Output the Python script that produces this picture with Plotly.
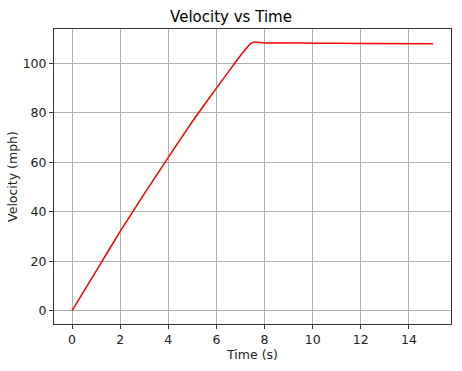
import plotly.graph_objects as go

time_s = [0, 1, 2, 3, 4, 5, 6, 7, 7.2, 7.35, 7.45, 7.55, 7.65, 7.8, 8.0, 8.3, 8.7, 9, 10, 12, 15]
velocity_mph = [0, 16.0, 32.0, 47.2, 62.0, 76.5, 90.0, 103.2, 105.6, 107.3, 108.2, 108.55, 108.6, 108.4, 108.2, 108.2, 108.25, 108.25, 108.15, 108.05, 107.9]

x_ticks = [0, 2, 4, 6, 8, 10, 12, 14]
y_ticks = [0, 20, 40, 60, 80, 100]

font = "DejaVu Sans"

fig = go.Figure()
fig.add_trace(go.Scatter(x=time_s, y=velocity_mph, mode="lines",
                         line=dict(color="red", width=1.5, shape="spline", smoothing=0.3)))

axis_common = dict(showline=True, linecolor="#333333", linewidth=1, mirror=True,
                   showgrid=True, gridcolor="#b0b0b0", gridwidth=1,
                   ticks="outside", ticklen=4, tickcolor="#333333", tickwidth=1,
                   zeroline=False, automargin=False,
                   tickfont=dict(family=font, size=12.5, color="#222222"))

fig.update_layout(
    width=462, height=371,
    margin=dict(l=54, r=11, t=29, b=47),
    paper_bgcolor="white", plot_bgcolor="white",
    showlegend=False,
    title=dict(text="Velocity vs Time", x=0.5, xanchor="center", y=1 - 17/371, yanchor="middle",
               font=dict(family=font, size=15, color="black")),
    xaxis=dict(range=[-0.75, 15.75], tickvals=x_ticks,
               title=dict(text="Time (s)", font=dict(family=font, size=12.5, color="#222222"), standoff=4),
               **axis_common),
    yaxis=dict(range=[-5.43, 113.9], tickvals=y_ticks,
               title=dict(text="Velocity (mph)", font=dict(family=font, size=12.5, color="#222222"), standoff=2),
               **axis_common),
)

fig.write_html("out.html")
